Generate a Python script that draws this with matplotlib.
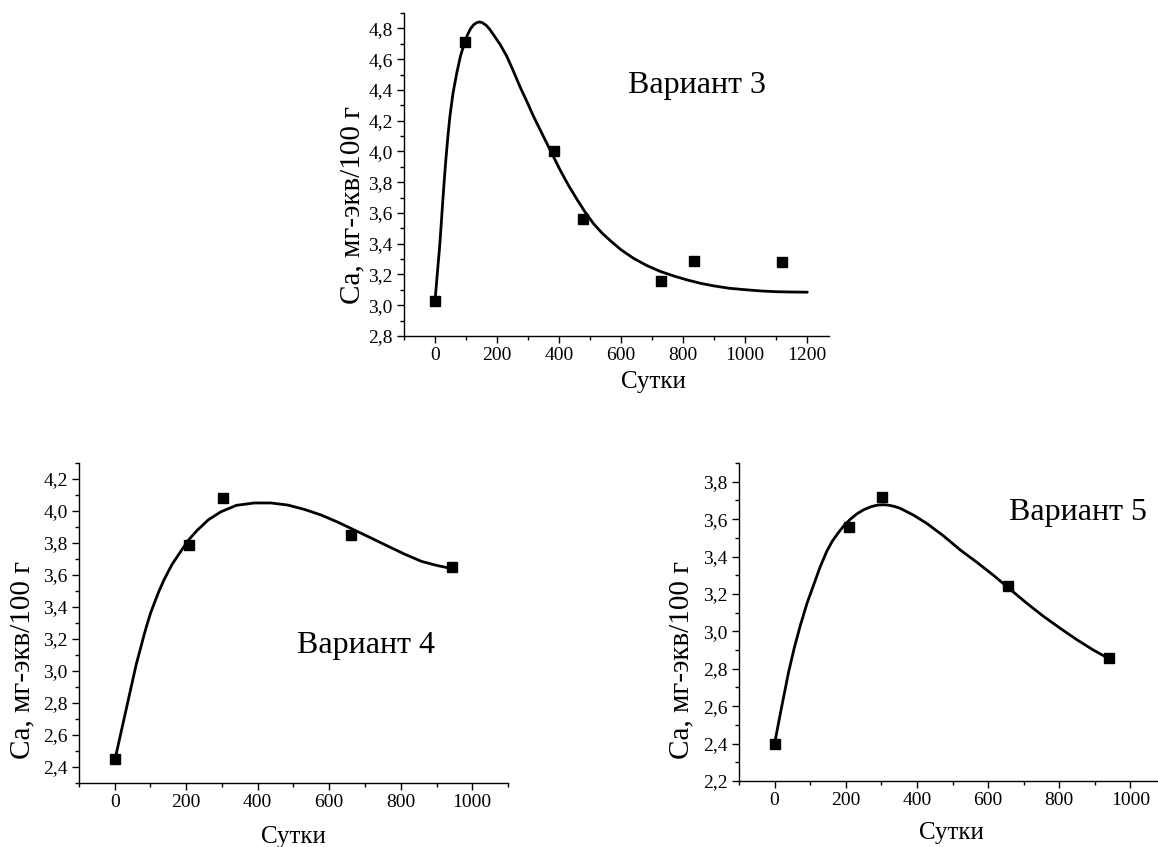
import numpy as np
import matplotlib
matplotlib.use('Agg')
import matplotlib.pyplot as plt
from matplotlib.ticker import MultipleLocator, FuncFormatter

plt.rcParams['font.family'] = ['Liberation Serif', 'DejaVu Serif']

# Вариант 3 - точки и сглаженная кривая
days3 = [0, 95, 385, 478, 729, 834, 1118]
ca3 = [3.03, 4.71, 4.00, 3.56, 3.16, 3.29, 3.28]
curve3_x = [0, 5, 10, 14, 20, 25, 30, 35, 41, 48, 58, 70, 82, 94, 105, 115, 125,
            135, 143, 152, 165, 176, 188, 210, 231, 252, 274, 296, 317, 339, 361,
            382, 403, 430, 457, 484, 511, 538, 565, 600, 640, 683, 726, 770, 812,
            855, 898, 950, 1006, 1050, 1100, 1150, 1200]
curve3_y = [3.03, 3.15, 3.27, 3.36, 3.53, 3.68, 3.82, 3.95, 4.09, 4.23, 4.38, 4.51,
            4.62, 4.70, 4.76, 4.80, 4.825, 4.838, 4.842, 4.838, 4.82, 4.795,
            4.76, 4.695, 4.62, 4.525, 4.42, 4.325, 4.23, 4.14, 4.05, 3.965, 3.88,
            3.78, 3.69, 3.605, 3.53, 3.47, 3.42, 3.36, 3.305, 3.258, 3.22, 3.19,
            3.165, 3.143, 3.126, 3.11, 3.10, 3.093, 3.088, 3.086, 3.085]

# Вариант 4
days4 = [0, 208, 302, 660, 943]
ca4 = [2.45, 3.79, 4.08, 3.85, 3.65]
curve4_x = [0, 10, 25, 49, 60, 72, 82, 91, 100, 110, 124, 138, 160, 184, 207, 231,
            262, 297, 340, 390, 437, 484, 530, 577, 624, 671, 718, 764, 811, 858,
            900, 942]
curve4_y = [2.44, 2.54, 2.69, 2.93, 3.04, 3.14, 3.225, 3.295, 3.36, 3.42, 3.50,
            3.57, 3.665, 3.745, 3.82, 3.88, 3.945, 3.995, 4.035, 4.05, 4.05,
            4.037, 4.01, 3.975, 3.93, 3.88, 3.83, 3.78, 3.73, 3.685, 3.66, 3.64]

# Вариант 5
days5 = [0, 208, 302, 657, 940]
ca5 = [2.40, 3.56, 3.72, 3.24, 2.86]
curve5_x = [0, 16, 39, 55, 72, 91, 110, 128, 147, 163, 180, 196, 213, 231, 250,
            270, 288, 305, 320, 337, 353, 390, 428, 475, 522, 568, 615, 662, 709,
            756, 803, 850, 896, 938]
curve5_y = [2.40, 2.56, 2.78, 2.91, 3.03, 3.15, 3.25, 3.345, 3.43, 3.485, 3.53,
            3.568, 3.60, 3.628, 3.65, 3.666, 3.675, 3.677, 3.675, 3.668, 3.658,
            3.622, 3.577, 3.51, 3.435, 3.37, 3.30, 3.225, 3.15, 3.08, 3.016,
            2.955, 2.90, 2.856]

comma = FuncFormatter(lambda v, p: ('%.1f' % v).replace('.', ','))


def panel(rect, dx, dy, cx, cy, xlim, ylim, name, name_pos, ylab_pos, xlab_pos):
    ax = fig.add_axes(rect)
    ax.plot(cx, cy, color='black', lw=2.0, solid_joinstyle='round',
            solid_capstyle='round')
    ax.plot(dx, dy, 's', color='black', ms=7.5, clip_on=False)
    ax.set_xlim(*xlim)
    ax.set_ylim(*ylim)
    for s in ['top', 'right']:
        ax.spines[s].set_visible(False)
    for s in ['left', 'bottom']:
        ax.spines[s].set_linewidth(1.0)
    ax.xaxis.set_major_locator(MultipleLocator(200))
    ax.xaxis.set_minor_locator(MultipleLocator(100))
    ax.yaxis.set_major_locator(MultipleLocator(0.2))
    ax.yaxis.set_minor_locator(MultipleLocator(0.1))
    ax.yaxis.set_major_formatter(comma)
    ax.tick_params(which='major', direction='out', length=5, width=1.0,
                   labelsize=14, pad=3)
    ax.tick_params(which='minor', direction='out', length=3, width=1.0)
    ax.set_xlabel('Сутки', fontsize=18, va='center')
    ax.set_ylabel('Ca, мг-экв/100 г', fontsize=21, va='center', ha='center')
    ax.xaxis.set_label_coords(*xlab_pos)
    ax.yaxis.set_label_coords(*ylab_pos)
    ax.text(name_pos[0], name_pos[1], name, transform=ax.transAxes,
            fontsize=23, ha='center', va='center')
    return ax


fig = plt.figure(figsize=(11.58, 8.47), dpi=100)

panel([0.3489, 0.6033, 0.367, 0.3813], days3, ca3, curve3_x, curve3_y,
      (-100, 1270), (2.8, 4.9), 'Вариант 3', (0.689, 0.777),
      (-0.122, 0.406), (0.586, -0.142))
panel([0.0682, 0.0756, 0.3705, 0.3778], days4, ca4, curve4_x, curve4_y,
      (-100, 1100), (2.3, 4.3), 'Вариант 4', (0.669, 0.431),
      (-0.132, 0.384), (0.499, -0.169))
panel([0.6382, 0.0779, 0.3687, 0.3754], days5, ca5, curve5_x, curve5_y,
      (-100, 1100), (2.2, 3.9), 'Вариант 5', (0.794, 0.846),
      (-0.136, 0.38), (0.498, -0.164))

fig.savefig('out.png', dpi=100)
